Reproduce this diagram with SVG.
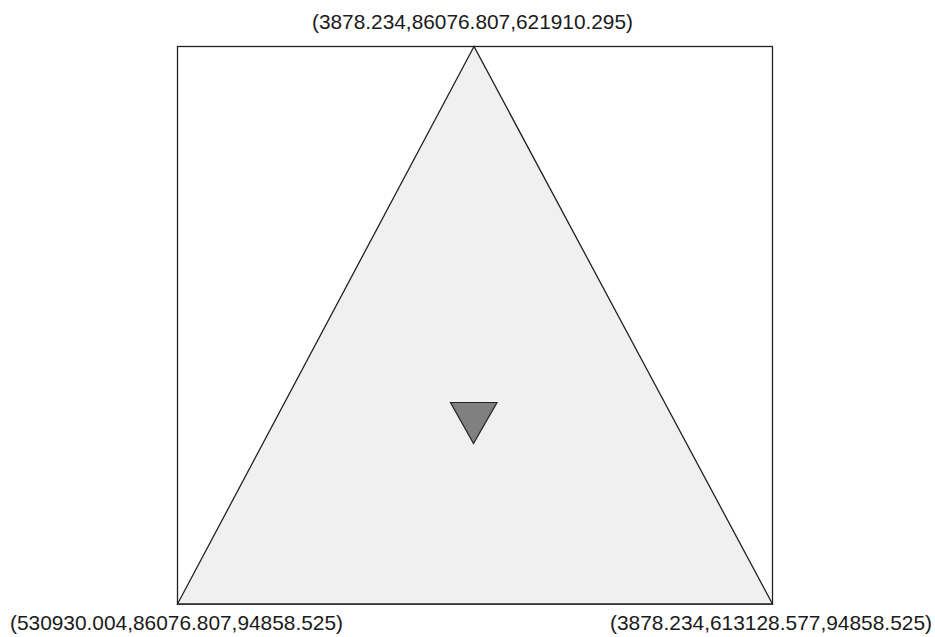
<svg xmlns="http://www.w3.org/2000/svg" width="935" height="637" viewBox="0 0 935 637">
<style>
.lbl{font-family:"Liberation Sans",Arial,sans-serif;font-size:21px;fill:#1a1a1a}
.edge{fill:none;stroke:#222;stroke-width:1.3}
</style>
<rect width="935" height="637" fill="#fff"/>
<g id="frame"><rect x="177.5" y="46.5" width="595" height="557.5" class="edge" stroke-width="1.5"/></g>
<g id="triangle"><polygon points="474,46.5 177.5,604 772.5,604" fill="#f0f0f0" class="edge" style="fill:#f0f0f0"/></g>
<g id="marker"><polygon points="450.5,402.5 497,402.5 473.5,443.5" fill="#808080" stroke="#222" stroke-width="1.2"/></g>
<g id="labels">
<text class="lbl" x="312" y="29" textLength="321" lengthAdjust="spacingAndGlyphs">(3878.234,86076.807,621910.295)</text>
<text class="lbl" x="10" y="630" textLength="333" lengthAdjust="spacingAndGlyphs">(530930.004,86076.807,94858.525)</text>
<text class="lbl" x="610" y="630" textLength="322" lengthAdjust="spacingAndGlyphs">(3878.234,613128.577,94858.525)</text>
</g>
</svg>
